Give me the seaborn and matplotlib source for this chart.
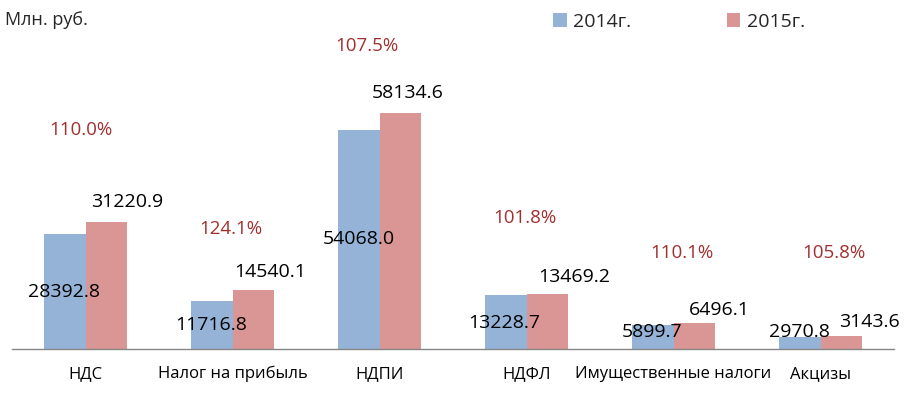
import numpy as np
import matplotlib
matplotlib.use('Agg')
import matplotlib.pyplot as plt
import pandas as pd
import seaborn as sns

# data
categories = ['НДС', 'Налог на прибыль', 'НДПИ', 'НДФЛ', 'Имущественные налоги', 'Акцизы']
years = ['2014г.', '2015г.']
vals_2014 = [28392.8, 11716.8, 54068.0, 13228.7, 5899.7, 2970.8]
vals_2015 = [31220.9, 14540.1, 58134.6, 13469.2, 6496.1, 3143.6]
unit_label = 'Млн. руб.'

# label offsets in pixels (dx, dy) - hand placed like in the original
off_2014 = [(-1, -58), (0, -24), (0, -109), (-1, -28), (0, -7), (0, 5)]
off_2015 = [(21, 20), (17, 18), (7, 20), (27, 17), (25, 13), (28, 14)]
off_pct = [(-5, 219), (-2, 120), (-13, 303), (-2, 131), (8, 96), (13, 96)]

sns.set_style('white')
plt.rcParams['font.family'] = ['Open Sans', 'DejaVu Sans']

df = pd.DataFrame({
    'cat': categories * 2,
    'year': [years[0]] * len(categories) + [years[1]] * len(categories),
    'val': vals_2014 + vals_2015,
})

W, H = 909, 395
fig = plt.figure(figsize=(W / 100, H / 100), dpi=100)
ax = fig.add_axes([12 / W, 46 / H, 882 / W, 349 / H])

sns.barplot(data=df, x='cat', y='val', hue='year', order=categories, hue_order=years,
            palette=['#95B3D7', '#D99694'], saturation=1, width=0.571,
            linewidth=0, ax=ax)

ax.set_xlim(-0.5, len(categories) - 0.5)
ax.set_ylim(0, 349 * 246.5)
ax.set_xlabel('')
ax.set_ylabel('')
ax.set_yticks([])
for s in ['top', 'right', 'left']:
    ax.spines[s].set_visible(False)
ax.spines['bottom'].set_color('#868686')
ax.spines['bottom'].set_linewidth(1)

ax.set_xticks(range(len(categories)))
ax.set_xticklabels(categories, fontsize=12, color='black')
ax.tick_params(axis='x', which='major', length=0, pad=12)
ax.set_xticks(np.arange(-0.5, len(categories)), minor=True)
ax.tick_params(axis='x', which='minor', length=7, width=1, color='#868686', direction='out')

# value labels
for cont, offs in zip(ax.containers, [off_2014, off_2015]):
    for bar, (dx, dy) in zip(cont, offs):
        xc = bar.get_x() + bar.get_width() / 2
        ax.annotate(f'{bar.get_height():.1f}', xy=(xc, bar.get_height()), xytext=(dx, dy),
                    textcoords='offset pixels', ha='center', va='center',
                    fontsize=14, color='black', annotation_clip=False)

# growth percentages
for i, (a, b) in enumerate(zip(vals_2014, vals_2015)):
    dx, dy = off_pct[i]
    ax.annotate(f'{b / a * 100:.1f}%', xy=(i, 0), xytext=(dx, dy),
                textcoords='offset pixels', ha='center', va='center',
                fontsize=13.5, color='#A0302F', annotation_clip=False)

handles, labels = ax.get_legend_handles_labels()
ax.legend(handles, labels, loc='center left', bbox_to_anchor=(553 / W, 1 - 22 / H),
          bbox_transform=fig.transFigure, ncol=2, frameon=False, fontsize=14,
          handlelength=0.7, handleheight=0.7, handletextpad=0.35, columnspacing=4.9,
          borderpad=0, borderaxespad=0)

fig.text(5 / W, 1 - 20 / H, unit_label, fontsize=13, va='center', ha='left')

fig.savefig('out.png', dpi=100)
